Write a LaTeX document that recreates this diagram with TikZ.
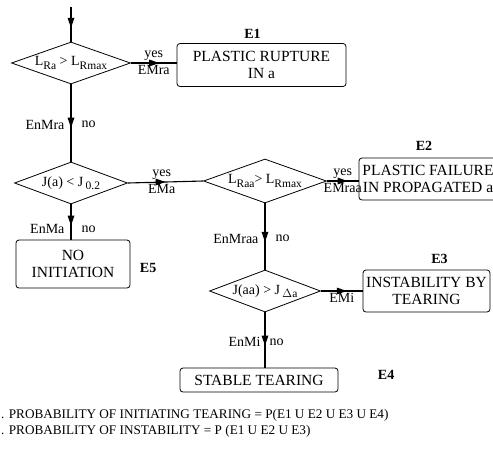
\documentclass[tikz,border=0pt]{standalone}
\usepackage{fontspec}
\setmainfont{Liberation Serif}
\usetikzlibrary{shapes.geometric,calc,positioning}

\newcommand{\lowtxt}[1]{\raisebox{-3.5pt}{\fontsize{11.5}{11}\selectfont #1}}
\newcommand{\downhead}[1]{\fill (#1) -- ++(-3.5,-10) -- ++(7,0) -- cycle;}
\newcommand{\righthead}[1]{\fill (#1) -- ++(-10,-3.5) -- ++(0,7) -- cycle;}

\tikzset{
  test/.style={diamond,draw,thick,aspect=3,inner sep=-4pt,font=\fontsize{14}{14}\selectfont},
  event/.style={draw,thick,rounded corners=3pt,align=center,inner sep=0pt,font=\fontsize{15.5}{17}\selectfont},
  elabel/.style={font=\bfseries\fontsize{14}{14}\selectfont},
  tag/.style={font=\fontsize{14}{14}\selectfont,inner sep=2pt},
  note/.style={anchor=west,inner sep=0pt,font=\fontsize{13.2}{15}\selectfont},
  flow/.style={line width=1.1pt}
}

\begin{document}
\begin{tikzpicture}[x=1pt,y=-1pt]
\useasboundingbox (0,0) rectangle (493,459);

\coordinate (in) at (71,7);
\node[test,minimum width=119pt,minimum height=42pt] (d1) at (71,63) {L\lowtxt{Ra} > L\lowtxt{Rmax}};
\node[test,minimum width=113pt,minimum height=42pt] (d2) at (71,183) {J(a) < J\,\lowtxt{0.2}};
\node[test,minimum width=123pt,minimum height=44pt] (d3) at (265,181) {L\lowtxt{Raa}> L\lowtxt{Rmax}};
\node[test,minimum width=111pt,minimum height=42pt] (d4) at (265,291) {J(aa) > J\,\lowtxt{$\Delta$a}};

\node[event,minimum width=169pt,minimum height=43pt] (e1) at (261.5,65) {PLASTIC RUPTURE\\IN a};
\node[event,minimum width=138pt,minimum height=42pt] (e2) at (428,179) {PLASTIC FAILURE\\IN PROPAGATED a};
\node[event,minimum width=127pt,minimum height=42pt] (e3) at (426.5,291) {INSTABILITY BY\\TEARING};
\node[event,minimum width=158pt,minimum height=24pt] (e4) at (259,380) {STABLE TEARING};
\node[event,minimum width=114pt,minimum height=48pt] (e5) at (73,264) {NO\\INITIATION};

\node[elabel,above=1pt of e1,xshift=-9pt] (l1) {E1};
\node[elabel,above=4pt of e2,xshift=-4pt] (l2) {E2};
\node[elabel,above=2pt of e3,xshift=13pt] (l3) {E3};
\node[elabel,right=36pt of e4,yshift=5pt] (l4) {E4};
\node[elabel,right=6pt of e5,yshift=-4pt] (l5) {E5};

\coordinate (t1) at (d1.east -| e1.west);
\coordinate (t2) at (d3.east -| e2.west);
\coordinate (t3) at (d4.east -| e3.west);
\coordinate (t4) at (d4.south |- e4.north);
\coordinate (t5) at (d2.south |- e5.north);

\draw[flow] (in) -- (d1.north);
\draw[flow] (d1.east) -- node[tag,above]{yes} node[tag,below]{EMra} (t1);
\draw[flow] (d1.south) -- node[tag,left=4pt,pos=0.52]{EnMra} node[tag,right=8pt,pos=0.52]{no} (d2.north);
\draw[flow] (d2.east) -- node[tag,above,pos=0.45]{yes} node[tag,below,pos=0.45]{EMa} (d3.west);
\draw[flow] (d2.south) -- node[tag,left=4pt,pos=0.7]{EnMa} node[tag,right=8pt,pos=0.7]{no} (t5);
\draw[flow] (d3.east) -- node[tag,above]{yes} node[tag,below]{EMraa} (t2);
\draw[flow] (d3.south) -- node[tag,left=4pt,pos=0.53]{EnMraa} node[tag,right=8pt,pos=0.53]{no} (d4.north);
\draw[flow] (d4.east) -- node[tag,below]{EMi} (t3);
\draw[flow] (d4.south) -- node[tag,left=2pt,pos=0.54]{EnMi} node[tag,right=2pt,pos=0.54]{no} (t4);

% arrowheads halfway along the lines
\coordinate (h1) at ($(in)!0.6!(d1.north)$);
\coordinate (h2) at ($(d1.east)!0.62!(t1)$);
\coordinate (h3) at ($(d1.south)!0.56!(d2.north)$);
\coordinate (h4) at ($(d2.east)!0.5!(d3.west)$);
\coordinate (h5) at ($(d2.south)!0.6!(t5)$);
\coordinate (h6) at ($(d3.east)!0.65!(t2)$);
\coordinate (h7) at ($(d3.south)!0.58!(d4.north)$);
\coordinate (h8) at ($(d4.east)!0.62!(t3)$);
\coordinate (h9) at ($(d4.south)!0.6!(t4)$);
\downhead{h1} \righthead{h2} \downhead{h3} \righthead{h4} \downhead{h5}
\righthead{h6} \downhead{h7} \righthead{h8} \downhead{h9}

\node[note] (p1) at (1,415) {. PROBABILITY OF INITIATING TEARING = P(E1 U E2 U E3 U E4)};
\node[note] (p2) at (1,431) {. PROBABILITY OF INSTABILITY = P (E1 U E2 U E3)};
\end{tikzpicture}
\end{document}
